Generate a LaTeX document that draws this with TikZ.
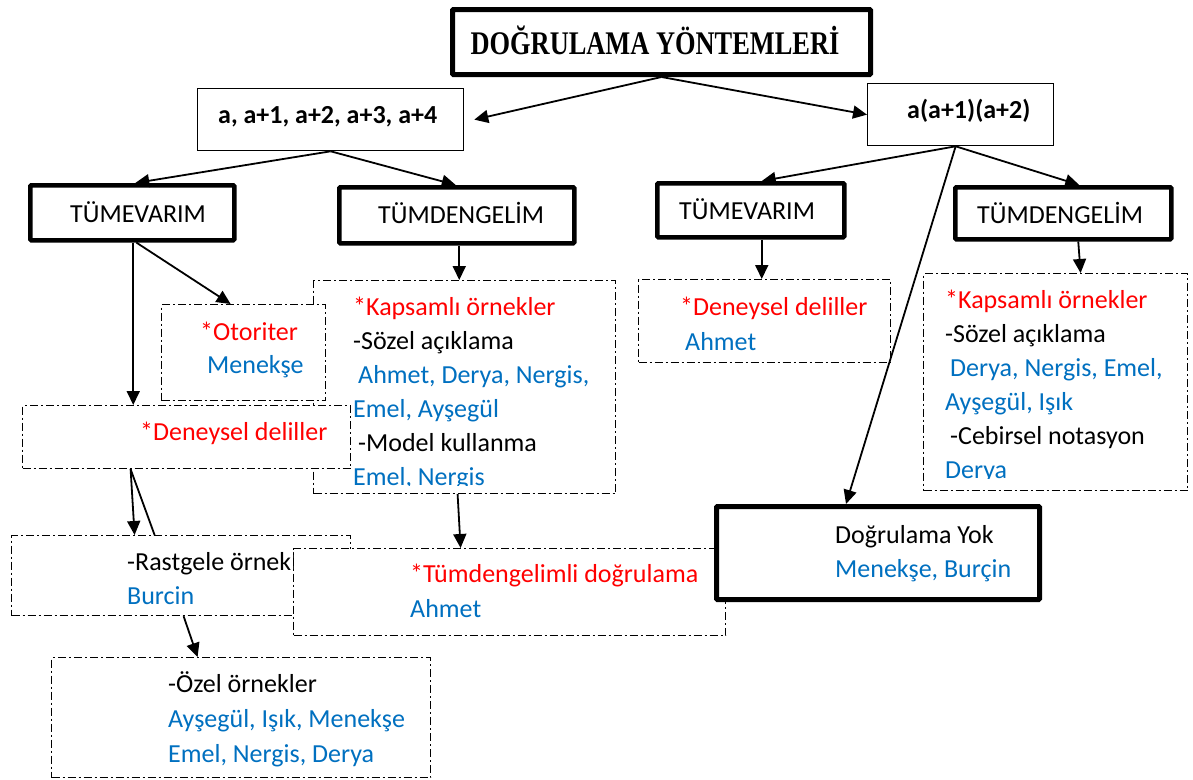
\documentclass[tikz,border=0pt]{standalone}
\usepackage{fontspec}
\usepackage{graphicx}
\setmainfont{Carlito}
\newfontfamily\titlefont{Liberation Serif}
\usetikzlibrary{arrows.meta}
\definecolor{tred}{RGB}{255,0,0}
\definecolor{tblue}{RGB}{0,112,192}
\tikzset{
  thickbox/.style={draw, line width=4.5pt, rounded corners=1pt, fill=white, inner sep=0pt, anchor=north west},
  thinbox/.style={draw, line width=1.3pt, fill=white, inner sep=0pt, anchor=north west},
  ddbox/.style={draw, line width=1.2pt, dash pattern=on 8pt off 3pt on 2pt off 3pt, fill=white, inner sep=0pt, anchor=north west},
  txt/.style={anchor=base west, inner sep=0pt, font=\fontsize{26}{34}\selectfont},
  rtxt/.style={txt, text=tred},
  btxt/.style={txt, text=tblue},
  boldtxt/.style={txt, font=\fontsize{26}{34}\selectfont\bfseries},
  arr/.style={-{Triangle[length=14pt,width=13pt]}, line width=1.8pt},
  ln/.style={line width=1.8pt}
}
\begin{document}
\begin{tikzpicture}[x=1pt,y=-1pt]
\useasboundingbox (0,0) rectangle (1193,779);
\fill[white] (0,0) rectangle (1193,779);

% top level
\node[thickbox, line width=5pt, minimum width=418pt, minimum height=65pt] (title) at (450,7) {};
\node[inner sep=0pt, font=\titlefont\bfseries\fontsize{33}{33}\selectfont] (ttitle) at (655,40) {\scalebox{0.8}[1]{DOĞRULAMA YÖNTEMLERİ}};

\node[thinbox, minimum width=266pt, minimum height=62pt] (box1) at (197,88) {};
\node[boldtxt] (tbox1) at (218,123) {a, a+1, a+2, a+3, a+4};
\node[thinbox, minimum width=186pt, minimum height=62pt] (box2) at (867,83) {};
\node[boldtxt] (tbox2) at (907,118) {a(a+1)(a+2)};

% second level
\node[thickbox, minimum width=204pt, minimum height=55pt] (tvl) at (28,183) {};
\node[txt] (ttvl) at (70,222) {TÜMEVARIM};
\node[thickbox, minimum width=235pt, minimum height=56pt] (tdl) at (337,185) {};
\node[txt] (ttdl) at (378,223) {TÜMDENGELİM};
\node[thickbox, minimum width=187pt, minimum height=54pt] (tvr) at (655,181) {};
\node[txt] (ttvr) at (679,219) {TÜMEVARIM};
\node[thickbox, minimum width=216pt, minimum height=52pt] (tdr) at (953,185) {};
\node[txt] (ttdr) at (977,223) {TÜMDENGELİM};

% left Kapsamli box (behind)
\node[ddbox, minimum width=302pt, minimum height=213pt] (kl) at (313,280) {};
\node[rtxt] (kl1) at (353,315) {*Kapsamlı örnekler};
\node[txt] (kl2) at (353,349) {-Sözel açıklama};
\node[btxt] (kl3) at (358,383) {Ahmet, Derya, Nergis,};
\node[btxt] (kl4) at (353,417) {Emel, Ayşegül};
\node[txt] (kl5) at (358,451) {-Model kullanma};
\begin{scope}
\clip (313,280) rectangle (615,485);
\node[btxt] (kl6) at (353,485) {Emel, Nergis};
\end{scope}

% Otoriter
\node[ddbox, minimum width=164pt, minimum height=96pt] (oto) at (161,304) {};
\node[rtxt] (oto1) at (200,340) {*Otoriter};
\node[btxt] (oto2) at (207,373) {Menekşe};

% Deneysel left
\node[ddbox, minimum width=328pt, minimum height=63pt] (denl) at (22,405) {};
\node[rtxt] (denl1) at (140,440) {*Deneysel deliller};

% right Deneysel
\node[ddbox, minimum width=252pt, minimum height=83pt] (denr) at (638,279) {};
\node[rtxt] (denr1) at (680,315) {*Deneysel deliller};
\node[btxt] (denr2) at (685,350) {Ahmet};

% right Kapsamli
\node[ddbox, minimum width=264pt, minimum height=217pt] (kr) at (923,273) {};
\node[rtxt] (kr1) at (945,308) {*Kapsamlı örnekler};
\node[txt] (kr2) at (945,342) {-Sözel açıklama};
\node[btxt] (kr3) at (950,376) {Derya, Nergis, Emel,};
\node[btxt] (kr4) at (945,410) {Ayşegül, Işık};
\node[txt] (kr5) at (950,444) {-Cebirsel notasyon};
\begin{scope}
\clip (923,273) rectangle (1187,478.5);
\node[btxt] (kr6) at (945,478) {Derya};
\end{scope}

% Rastgele
\node[ddbox, minimum width=339pt, minimum height=80pt] (ras) at (11,535) {};
\node[txt] (ras1) at (127,570) {-Rastgele örnekler};
\node[btxt] (ras2) at (127,604) {Burcin};

% Tumdengelimli
\node[ddbox, minimum width=432pt, minimum height=87pt] (tdg) at (293,548) {};
\node[rtxt] (tdg1) at (410,582) {*Tümdengelimli doğrulama};
\node[btxt] (tdg2) at (410,617) {Ahmet};

% Dogrulama Yok
\node[thickbox, line width=5pt, minimum width=323pt, minimum height=93pt] (dy) at (714,504) {};
\node[txt] (dy1) at (835,543) {Doğrulama Yok};
\node[btxt] (dy2) at (835,577) {Menekşe, Burçin};

% Ozel
\node[ddbox, minimum width=379pt, minimum height=120pt] (oz) at (51,657) {};
\node[txt] (oz1) at (168,692) {-Özel örnekler};
\node[btxt] (oz2) at (168,727) {Ayşegül, Işık, Menekşe};
\node[btxt] (oz3) at (168,762) {Emel, Nergis, Derya};

% connectors
\draw[arr] (title.south) -- ([xshift=10pt]box1.east);
\draw[arr] (title.south) -- (box2.west);
\draw[arr] (box1.south) -- ([xshift=3pt]tvl.north);
\draw[arr] (box1.south) -- ([xshift=-1pt]tdl.north);
\draw[arr] ([xshift=-5pt]box2.south) -- ([xshift=11pt]tvr.north);
\draw[arr] ([xshift=-5pt]box2.south) -- ([xshift=16pt]tdr.north);
\draw[arr] ([xshift=-5pt]box2.south) -- ([xshift=-32pt]dy.north);
\draw[arr] ([xshift=1pt]tvl.south) -- ([xshift=1pt]tvl.south |- denl.north);
\draw[arr] ([xshift=4pt]tvl.south) -- ([xshift=-13pt]oto.north);
\draw[arr] ([xshift=2.5pt]tdl.south) -- ([xshift=2.5pt]tdl.south |- kl.north);
\draw[arr] ([xshift=11pt]tvr.south) -- ([xshift=11pt]tvr.south |- denr.north);
\draw[arr] ([xshift=15pt]tdr.south) -- ([xshift=25pt]kr.north);
\draw[arr] ([xshift=-56pt]denl.south) -- ([xshift=-46.5pt]ras.north);
\draw[ln] ([xshift=-56pt]denl.south) -- ([xshift=-26.5pt]ras.north);
\draw[arr] ([xshift=-7pt]kl.south) -- ([xshift=-49pt]tdg.north);
\draw[arr] ([xshift=2.5pt]ras.south) -- ([xshift=-43.5pt]oz.north);
\end{tikzpicture}
\end{document}
